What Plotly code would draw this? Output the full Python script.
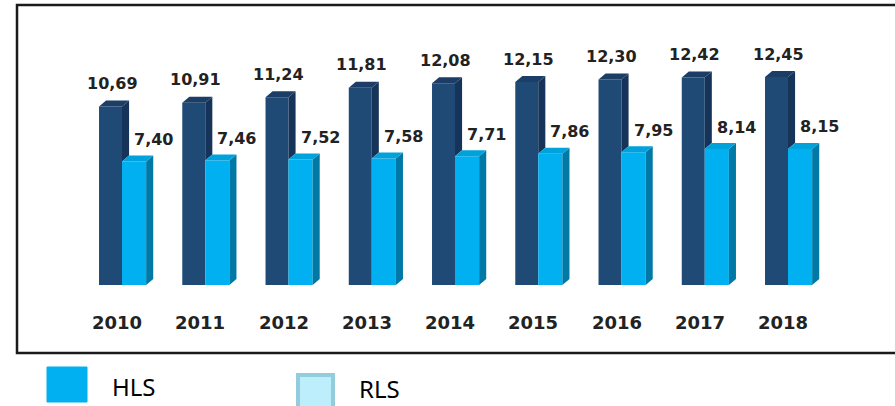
import plotly.graph_objects as go

years = ["2010", "2011", "2012", "2013", "2014", "2015", "2016", "2017", "2018"]
series_dark = [10.69, 10.91, 11.24, 11.81, 12.08, 12.15, 12.30, 12.42, 12.45]
series_light = [7.40, 7.46, 7.52, 7.58, 7.71, 7.86, 7.95, 8.14, 8.15]
legend_names = ["HLS", "RLS"]

W, H = 895, 406
ML, MR, MT, MB = 17, 0, 5, 53
PW, PH = W - ML - MR, H - MT - MB
PX_PER_X = 83.25
PX_PER_Y = 16.7
X0_PX, Y0_PX = 122, 285
xmin = -(X0_PX - ML) / PX_PER_X
xmax = xmin + PW / PX_PER_X
ymin = -((H - MB) - Y0_PX) / PX_PER_Y
ymax = (Y0_PX - MT) / PX_PER_Y

pos = list(range(len(years)))
wd, wl = 0.276, 0.29
dx, dy = 0.085, 0.36

c_dark_front, c_dark_side, c_dark_top = "#1f4a76", "#16345a", "#1b3d66"
c_light_front, c_light_side, c_light_top = "#00b0f0", "#0079a6", "#00a2dc"

fig = go.Figure()
fig.add_trace(go.Bar(x=pos, y=series_dark, width=wd, offset=-wd, marker=dict(color=c_dark_front, line=dict(width=0)),
                     name=legend_names[0], showlegend=False, hoverinfo="skip"))
fig.add_trace(go.Bar(x=pos, y=series_light, width=wl, offset=0, marker=dict(color=c_light_front, line=dict(width=0)),
                     name=legend_names[1], showlegend=False, hoverinfo="skip"))


def poly(xs, ys, color):
    fig.add_trace(go.Scatter(x=xs + [xs[0]], y=ys + [ys[0]], mode="lines", fill="toself",
                             fillcolor=color, line=dict(width=0, color=color),
                             showlegend=False, hoverinfo="skip"))


for i, (d, l) in enumerate(zip(series_dark, series_light)):
    poly([i, i + dx, i + dx, i], [l, l + dy, d + dy, d], c_dark_side)
    poly([i - wd, i, i + dx, i - wd + dx], [d, d, d + dy, d + dy], c_dark_top)
    poly([i + wl, i + wl + dx, i + wl + dx, i + wl], [0, dy, l + dy, l], c_light_side)
    poly([i, i + wl, i + wl + dx, i + dx], [l, l, l + dy, l + dy], c_light_top)

annotations = []
lab_font = dict(family="DejaVu Sans", size=16, color="#222222", weight="bold")
for i, (d, l) in enumerate(zip(series_dark, series_light)):
    annotations.append(dict(x=i - 0.12, y=d, xref="x", yref="y", text=f"{d:.2f}".replace(".", ","),
                            showarrow=False, yshift=23, font=lab_font, xanchor="center", yanchor="middle"))
    annotations.append(dict(x=i + 0.38, y=l, xref="x", yref="y", text=f"{l:.2f}".replace(".", ","),
                            showarrow=False, yshift=22, font=lab_font, xanchor="center", yanchor="middle"))
    annotations.append(dict(x=i - 0.06, y=0, xref="x", yref="y", text=years[i], showarrow=False, yshift=-37,
                            font=dict(family="DejaVu Sans", size=18, color="#222222", weight="bold"),
                            xanchor="center", yanchor="middle"))


def px2x(px):
    return (px - ML) / PW


def px2y(py):
    return ((H - MB) - py) / PH


shapes = [
    dict(type="rect", xref="paper", yref="paper", x0=0, x1=px2x(905), y0=0, y1=1,
         line=dict(color="#1a1a1a", width=2.5), fillcolor="rgba(0,0,0,0)", layer="above"),
    dict(type="rect", xref="paper", yref="paper", x0=px2x(47), x1=px2x(87), y0=px2y(402), y1=px2y(367),
         line=dict(color="#00b0f0", width=1), fillcolor="#00b0f0"),
    dict(type="rect", xref="paper", yref="paper", x0=px2x(298), x1=px2x(333), y0=px2y(408), y1=px2y(375),
         line=dict(color="#93cddd", width=4), fillcolor="#bdeefb"),
]
annotations.append(dict(x=px2x(110), y=px2y(386), xref="paper", yref="paper", text=legend_names[0],
                        showarrow=False, xanchor="left", yanchor="middle",
                        font=dict(family="Noto Sans", size=24, color="#000000")))
annotations.append(dict(x=px2x(357), y=px2y(388), xref="paper", yref="paper", text=legend_names[1],
                        showarrow=False, xanchor="left", yanchor="middle",
                        font=dict(family="Noto Sans", size=24, color="#000000")))

fig.update_layout(
    width=W, height=H, margin=dict(l=ML, r=MR, t=MT, b=MB),
    paper_bgcolor="white", plot_bgcolor="white", barmode="overlay",
    xaxis=dict(range=[xmin, xmax], visible=False, fixedrange=True),
    yaxis=dict(range=[ymin, ymax], visible=False, fixedrange=True),
    annotations=annotations, shapes=shapes, showlegend=False,
)
fig.write_html("out.html", config={"displayModeBar": False},
               post_script="document.body.style.margin='0';document.body.style.overflow='hidden';")
